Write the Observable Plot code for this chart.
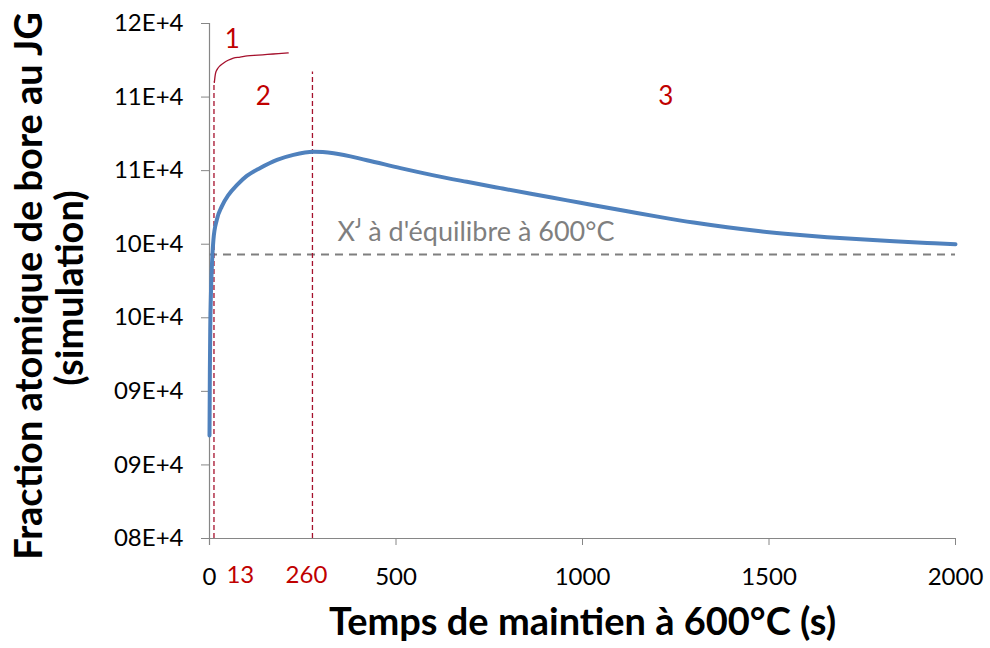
<!DOCTYPE html>
<html>
<head>
<meta charset="utf-8">
<script src="https://cdn.jsdelivr.net/npm/d3@7"></script>
<script src="https://cdn.jsdelivr.net/npm/@observablehq/plot@0.6"></script>
<style>
  html, body { margin: 0; padding: 0; background: #fff; }
  #chart svg { display: block; font-family: Lato, "Open Sans", sans-serif; }
</style>
</head>
<body>
<div id="chart"></div>
<script>
// Simulated curve (blue): time (s) and boron fraction
const simTime  = [0, 1, 2, 4, 6.4, 10.5, 19.6, 33, 51, 74, 100, 136, 181, 225, 279, 333, 422, 512, 601, 690, 780, 869, 959, 1030, 1120, 1209, 1298, 1388, 1477, 1567, 1656, 1745, 1835, 1924, 2000];
const simValue = [8.70, 9.15, 9.42, 9.68, 9.85, 10.03, 10.166, 10.257, 10.335, 10.403, 10.464, 10.518, 10.573, 10.607, 10.628, 10.618, 10.571, 10.517, 10.468, 10.424, 10.381, 10.339, 10.298, 10.265, 10.224, 10.184, 10.147, 10.115, 10.088, 10.066, 10.048, 10.033, 10.02, 10.009, 10.0];

// Regime 1 curve (red, thin)
const regTime  = [13, 16, 21, 29, 37, 50, 64, 82, 101, 130, 155, 185, 211];
const regValue = [11.10, 11.16, 11.19, 11.215, 11.23, 11.25, 11.265, 11.272, 11.28, 11.285, 11.29, 11.295, 11.30];

// Regime boundaries (red dashed): where the lines are drawn, their tops, and their axis labels
const boundaryTime   = [12, 276];
const boundaryTop    = [11.10, 11.17];
const boundaryLabels = ["13", "260"];
const boundaryLabelX = [13, 260];

// Equilibrium level
const equilibrium = 9.93;
const equilibriumLabel = "Xᴶ à d'équilibre à 600°C";

// Region labels
const regionNames = ["1", "2", "3"];
const regionX     = [61, 144, 1223];
const regionY     = [11.39, 11.0, 11.0];

// Axes
const xTicks = [0, 500, 1000, 1500, 2000];
const yTicks = [8, 8.5, 9, 9.5, 10, 10.5, 11, 11.5];
const yTickLabels = ["08E+4", "09E+4", "09E+4", "10E+4", "10E+4", "11E+4", "11E+4", "12E+4"];
const xTitle = "Temps de maintien à 600°C (s)";
const yTitle1 = "Fraction atomique de bore au JG";
const yTitle2 = "(simulation)";

const sim = simTime.map((t, i) => ({t, v: simValue[i]}));
const reg = regTime.map((t, i) => ({t, v: regValue[i]}));
const bounds = boundaryTime.map((t, i) => ({t, top: boundaryTop[i]}));
const boundLabels = boundaryLabels.map((label, i) => ({x: boundaryLabelX[i], label}));
const regions = regionNames.map((n, i) => ({n, x: regionX[i], y: regionY[i]}));

const red = "#C00000";
const darkRed = "#A5102C";
const gray = "#868686";

const chart = Plot.plot({
  width: 990,
  height: 648,
  marginLeft: 209,
  marginRight: 35,
  marginTop: 23,
  marginBottom: 110,
  style: {fontFamily: "Lato, 'Open Sans', sans-serif", background: "#fff", color: "#000"},
  x: {domain: [0, 2000]},
  y: {domain: [8, 11.5]},
  marks: [
    Plot.axisX({ticks: xTicks, tickSize: 7, tickPadding: 22, fontSize: 24, stroke: gray, label: null,
                tickFormat: d => String(d)}),
    Plot.axisY({ticks: yTicks, tickSize: 8, tickPadding: 18, fontSize: 24, stroke: gray, label: null,
                tickFormat: d => yTickLabels[yTicks.indexOf(d)]}),
    Plot.ruleX([0], {y1: 11.5, y2: 8, stroke: gray, strokeWidth: 1.2, insetBottom: -7}),
    Plot.ruleY([8], {x1: 0, x2: 2000, stroke: gray, strokeWidth: 1.2, insetLeft: -8}),
    Plot.ruleY([equilibrium], {x1: 0, x2: 2000, stroke: "#7F7F7F", strokeWidth: 2, strokeDasharray: "8,6"}),
    Plot.ruleX(bounds, {x: "t", y1: 8, y2: "top", stroke: darkRed, strokeWidth: 1.3, strokeDasharray: "5,3"}),
    Plot.line(sim, {x: "t", y: "v", stroke: "#4F81BD", strokeWidth: 4, curve: "monotone-x"}),
    Plot.line(reg, {x: "t", y: "v", stroke: darkRed, strokeWidth: 1.3, curve: "monotone-x"}),
    Plot.text(regions, {x: "x", y: "y", text: "n", fill: red, fontSize: 26}),
    Plot.text([equilibriumLabel], {x: 343, y: 10.08, text: d => d, textAnchor: "start", fill: "#7F7F7F", fontSize: 27}),
    Plot.text(boundLabels.slice(0, 1), {x: "x", frameAnchor: "bottom", lineAnchor: "middle", text: "label", fill: red, fontSize: 24, dy: 37, dx: 26}),
    Plot.text(boundLabels.slice(1), {x: "x", frameAnchor: "bottom", lineAnchor: "middle", text: "label", fill: red, fontSize: 24, dy: 37}),
    Plot.text([xTitle], {frameAnchor: "bottom", lineAnchor: "middle", textAnchor: "middle", text: d => d, dy: 84, fontSize: 38, fontWeight: "bold"}),
    Plot.text([yTitle1], {frameAnchor: "left", lineAnchor: "middle", textAnchor: "middle", text: d => d, dx: -180, dy: 5, rotate: -90, fontSize: 38, fontWeight: "bold"}),
    Plot.text([yTitle2], {frameAnchor: "left", lineAnchor: "middle", textAnchor: "middle", text: d => d, dx: -139, dy: 7, rotate: -90, fontSize: 38, fontWeight: "bold"})
  ]
});

document.getElementById("chart").appendChild(chart);
</script>
</body>
</html>
